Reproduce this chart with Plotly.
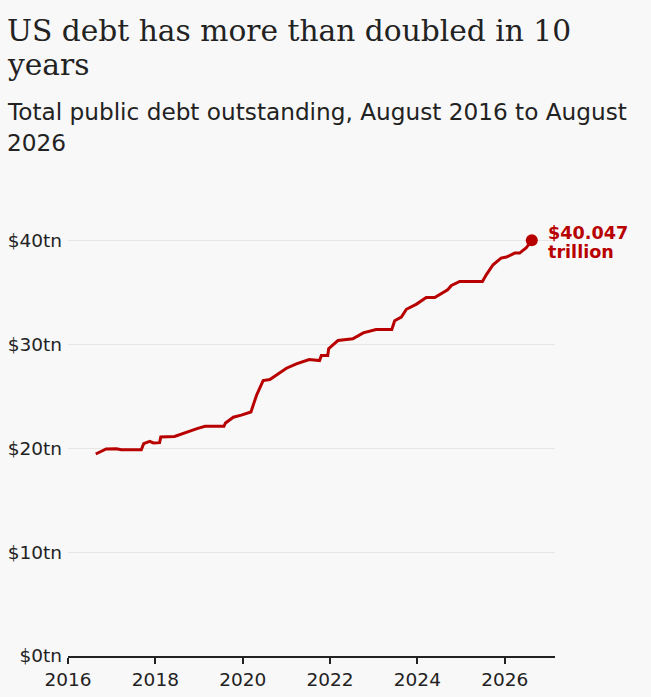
import plotly.graph_objects as go

# ---- data ----
dates = [
    "2016-08-20", "2016-11-15", "2017-02-10", "2017-03-20", "2017-09-05",
    "2017-09-25", "2017-11-15", "2017-12-15", "2018-02-05", "2018-02-15",
    "2018-06-10", "2018-09-20", "2018-12-15", "2019-02-20", "2019-07-28",
    "2019-08-10", "2019-10-15", "2019-12-20", "2020-03-10", "2020-04-25",
    "2020-06-20", "2020-08-15", "2020-10-20", "2021-01-01", "2021-03-25",
    "2021-06-15", "2021-07-10", "2021-10-05", "2021-10-20", "2021-12-12",
    "2021-12-20", "2022-02-01", "2022-03-08", "2022-07-10", "2022-10-05",
    "2023-01-20", "2023-06-01", "2023-06-25", "2023-08-20", "2023-10-01",
    "2023-12-25", "2024-03-15", "2024-05-25", "2024-09-10", "2024-10-12",
    "2024-12-20", "2025-06-28", "2025-07-30", "2025-09-25", "2025-12-01",
    "2026-01-15", "2026-03-25", "2026-05-05", "2026-06-28", "2026-08-15",
]
debt_tn = [
    19.46, 19.95, 19.97, 19.86, 19.86,
    20.45, 20.67, 20.52, 20.55, 21.10,
    21.15, 21.58, 21.90, 22.12, 22.12,
    22.45, 23.00, 23.20, 23.50, 25.10,
    26.53, 26.63, 27.18, 27.72, 28.14,
    28.40, 28.55, 28.46, 28.94, 28.94,
    29.60, 30.05, 30.39, 30.55, 31.13,
    31.45, 31.45, 32.30, 32.64, 33.40,
    33.90, 34.53, 34.53, 35.27, 35.69,
    36.08, 36.08, 36.72, 37.69, 38.33,
    38.43, 38.81, 38.81, 39.30, 40.047,
]
year_ticks = ["2016", "2018", "2020", "2022", "2024", "2026"]
y_ticks = [0, 10, 20, 30, 40]
y_tick_labels = ["$0tn", "$10tn", "$20tn", "$30tn", "$40tn"]
end_label_lines = ["$40.047", "trillion"]

title_lines = ["US debt has more than doubled in 10", "years"]
subtitle_lines = ["Total public debt outstanding, August 2016 to August", "2026"]

RED = "#b80000"
BG = "#f8f8f8"
INK = "#222222"
SANS = "DejaVu Sans"
SERIF = "DejaVu Serif"

fig = go.Figure()
fig.add_trace(go.Scatter(
    x=dates, y=debt_tn, mode="lines",
    line=dict(color=RED, width=3), hoverinfo="skip", showlegend=False,
))
fig.add_trace(go.Scatter(
    x=[dates[-1]], y=[debt_tn[-1]], mode="markers",
    marker=dict(color=RED, size=12), hoverinfo="skip", showlegend=False,
))

# end-of-line label, two tightly spaced lines
for text, ys in zip(end_label_lines, [19.5, 0.5]):
    fig.add_annotation(
        x=dates[-1], y=debt_tn[-1], xref="x", yref="y",
        text=text, showarrow=False, xanchor="left", yanchor="top",
        xshift=14, yshift=ys, align="left",
        font=dict(family=SANS, size=17.6, color=RED, weight="bold"),
    )

# title and subtitle (paper coords relative to plot area)
L, R, T, B = 68, 96, 220, 41
W, H = 651, 697
pw, ph = W - L - R, H - T - B


def px(xp):
    return (xp - L) / pw


def py(yp):
    return (H - B - yp) / ph


for text, top in zip(title_lines, [11.0, 44.7]):
    fig.add_annotation(
        x=px(5), y=py(top), xref="paper", yref="paper", text=text,
        showarrow=False, xanchor="left", yanchor="top", align="left",
        font=dict(family=SERIF, size=29.7, color=INK),
    )
for text, top in zip(subtitle_lines, [96.3, 127.0]):
    fig.add_annotation(
        x=px(5), y=py(top), xref="paper", yref="paper", text=text,
        showarrow=False, xanchor="left", yanchor="top", align="left",
        font=dict(family=SANS, size=23.2, color=INK),
    )

fig.update_layout(
    width=W, height=H,
    margin=dict(l=L, r=R, t=T, b=B, pad=0, autoexpand=False),
    paper_bgcolor=BG, plot_bgcolor=BG,
    font=dict(family=SANS, color=INK),
    xaxis=dict(
        type="date", range=["2016-01-01", "2027-02-25"],
        tickvals=[f"{y}-01-01" for y in year_ticks], ticktext=year_ticks,
        showgrid=False, zeroline=False, automargin=False,
        showline=True, linecolor=INK, linewidth=2,
        ticks="outside", ticklen=6, tickwidth=1.5, tickcolor=INK,
        tickfont=dict(size=18.5, color=INK), fixedrange=True,
    ),
    yaxis=dict(
        range=[0, 42], tickvals=y_ticks, ticktext=y_tick_labels,
        showgrid=True, gridcolor="#e6e6e6", gridwidth=1,
        zeroline=False, showline=False, ticks="", automargin=False,
        ticklabelstandoff=5,
        tickfont=dict(size=18.5, color=INK), fixedrange=True,
    ),
)

fig.write_html(
    "out.html",
    config={"displayModeBar": False},
    post_script=(
        "var s=document.documentElement.style;s.margin='0';s.padding='0';"
        "s.overflow='hidden';s.background='" + BG + "';"
        "var b=document.body.style;b.margin='0';b.padding='0';"
        "b.overflow='hidden';b.background='" + BG + "';"
    ),
)
